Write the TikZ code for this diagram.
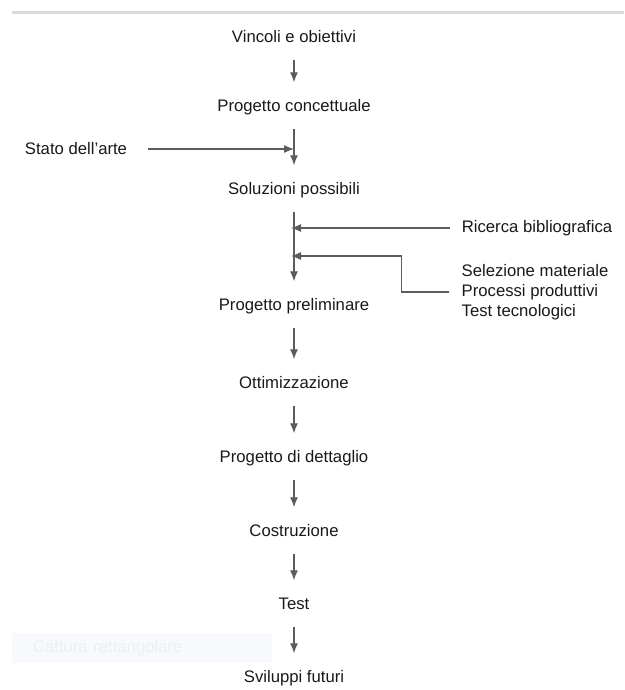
\documentclass[tikz,border=0pt]{standalone}
\usepackage{fontspec}
\setmainfont{Liberation Sans}
\usepackage{tikz}
\usetikzlibrary{arrows.meta,positioning,calc}
\definecolor{linegray}{HTML}{5C5C5C}
\definecolor{rulegray}{HTML}{DADADA}
\definecolor{capfill}{HTML}{F7F9FC}
\definecolor{captext}{HTML}{ECEFF3}

\begin{document}
\begin{tikzpicture}[every node/.style={font=\fontsize{16.7pt}{20pt}\selectfont, text=black!90}, >={Latex[length=10pt,width=8pt]}, node distance=70pt, on grid,
  stage/.style={inner sep=0pt, minimum height=44pt, text height=12pt, text depth=3.5pt},
  side/.style={inner xsep=12pt, inner ysep=0pt},
  flow/.style={draw=linegray, line width=1.2pt}]
\useasboundingbox (0,0) rectangle (624pt,-690pt);
\draw[rulegray, line width=3pt] (12pt,-12.5pt) -- (624pt,-12.5pt);
\node[stage] (vincoli) at (294pt,-38pt) {Vincoli e obiettivi};
\node[stage, below=69pt of vincoli] (concettuale) {Progetto concettuale};
\node[stage, below=83pt of concettuale] (soluzioni) {Soluzioni possibili};
\node[stage, below=116pt of soluzioni] (preliminare) {Progetto preliminare};
\node[stage, below=78pt of preliminare] (ottimizzazione) {Ottimizzazione};
\node[stage, below=74pt of ottimizzazione] (dettaglio) {Progetto di dettaglio};
\node[stage, below=74pt of dettaglio] (costruzione) {Costruzione};
\node[stage, below=73pt of costruzione] (test) {Test};
\node[stage, below=73pt of test] (sviluppi) {Sviluppi futuri};
\node[side, below left=42pt and 218pt of concettuale] (stato) {Stato dell’arte};
\node[side, below right=38pt and 243pt of soluzioni] (ricerca) {Ricerca bibliografica};
\node[side, align=left, below right=102pt and 241pt of soluzioni] (selezione) {Selezione materiale\\Processi produttivi\\Test tecnologici};
\node[fill=capfill, text=captext, minimum width=260pt, minimum height=30pt, text width=218pt, inner xsep=21pt, align=left, below left=43pt and 152pt of test] (cattura) {Cattura rettangolare};
\coordinate (selIn) at ([yshift=-66pt]soluzioni.center);
\draw[flow, ->, shorten >=2.5pt] (vincoli) -- (concettuale);
\draw[flow, ->, shorten >=2.5pt] (concettuale) -- (soluzioni);
\draw[flow, ->, shorten >=2.5pt] (soluzioni) -- (preliminare);
\draw[flow, ->, shorten >=2.5pt] (preliminare) -- (ottimizzazione);
\draw[flow, ->, shorten >=2.5pt] (ottimizzazione) -- (dettaglio);
\draw[flow, ->, shorten >=2.5pt] (dettaglio) -- (costruzione);
\draw[flow, ->, shorten >=2.5pt] (costruzione) -- (test);
\draw[flow, ->, shorten >=2.5pt] (test) -- (sviluppi);
\draw[flow, ->, shorten <=9pt] (stato) -- (stato -| concettuale);
\draw[flow, ->, shorten >=-3pt] (ricerca) -- (ricerca -| soluzioni);
\draw[flow, ->, shorten >=-3pt] (selezione.west) -- ++(-48pt,0) |- (selIn);
\end{tikzpicture}
\end{document}
